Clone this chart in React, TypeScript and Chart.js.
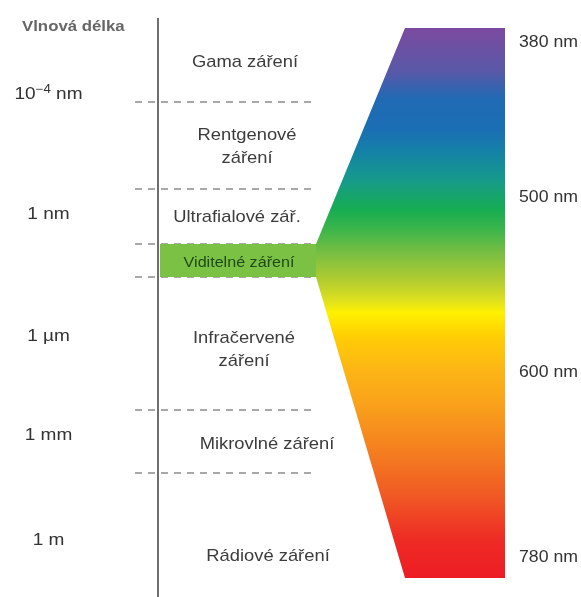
import React, { useEffect, useRef } from "react";
import { Chart, registerables } from "chart.js";

Chart.register(...registerables);

// ---------------- data ----------------
// Schematic wavelength axis (diagram units, short wavelengths at the top)
const axisTitle = "Vlnová délka";
const wavelengthLabels = ["10⁻⁴ nm", "1 nm", "1 µm", "1 mm", "1 m"];
const wavelengthLabelPos = [99, 219, 341, 440, 545];

// boundaries between the radiation regions
const boundaryPos = [102, 189, 244, 277, 410, 473];

const regionNames = [
  "Gama záření",
  "Rentgenové\nzáření",
  "Ultrafialové zář.",
  "Viditelné záření",
  "Infračervené\nzáření",
  "Mikrovlné záření",
  "Rádiové záření",
];
const regionLabelPos = [67, 140, 222, 267, 343, 449, 561];

// visible spectrum detail
const visibleLabels = ["380 nm", "500 nm", "600 nm", "780 nm"];
const visibleLabelPos = [47, 202, 377, 562];
const spectrumTop = 28;
const spectrumBottom = 578;
const spectrumStopPos = [28, 70, 100, 130, 150, 180, 210, 230, 255, 280, 300, 313, 337, 370, 405, 455, 495, 540, 578];
const spectrumStopColors = [
  "#7b4a9f", "#5b58a8", "#1f6ab4", "#1b6fb3", "#1580a8", "#169a8b", "#17ad52", "#3db54a",
  "#7dbf41", "#b1cc31", "#dde01f", "#fff100", "#ffcd05", "#fdb515", "#f9a11b", "#f47b20",
  "#f05a24", "#ee2b25", "#ed1c24",
];

// ---------------- layout (not data) ----------------
const W = 581;
const H = 597;
const AXIS_X = 158;
const AXIS_TOP = 18;
const DASH_START = 135;
const DASH_END = 315;
const BAND_START = 160;
const VERTEX_X = 316;
const SPEC_LEFT_X = 405;
const SPEC_RIGHT_X = 505;
const LEFT_LABEL_CX = 48.5;
const RIGHT_LABEL_X = 519;
const regionLabelX = [245, 247, 237, 239, 244, 267, 268];
const REGION_LINE_H = 22.5;
const FONT = "'Liberation Sans', Arial, sans-serif";

const SUP_MAP: Record<string, string> = {
  "⁻": "−", "⁰": "0", "¹": "1", "²": "2", "³": "3", "⁴": "4",
  "⁵": "5", "⁶": "6", "⁷": "7", "⁸": "8", "⁹": "9",
};

function drawText(
  ctx: CanvasRenderingContext2D,
  text: string,
  x: number,
  baseline: number,
  o: { size: number; color: string; sx: number; align: "left" | "center"; weight?: string }
) {
  const parts = text.split(/([⁻⁰¹²³⁴⁵⁶⁷⁸⁹]+)/).filter((p) => p.length);
  const segs = parts.map((p) => {
    const sup = /^[⁻⁰¹²³⁴⁵⁶⁷⁸⁹]+$/.test(p);
    return { t: sup ? p.split("").map((c) => SUP_MAP[c]).join("") : p, sup };
  });
  const w = o.weight || "normal";
  let total = 0;
  const widths = segs.map((s) => {
    ctx.font = `${w} ${s.sup ? o.size * 0.7 : o.size}px ${FONT}`;
    const m = ctx.measureText(s.t).width;
    total += m;
    return m;
  });
  ctx.save();
  ctx.translate(x, baseline);
  ctx.scale(o.sx, 1);
  ctx.fillStyle = o.color;
  ctx.textBaseline = "alphabetic";
  ctx.textAlign = "left";
  let cx = o.align === "center" ? -total / 2 : 0;
  segs.forEach((s, i) => {
    ctx.font = `${w} ${s.sup ? o.size * 0.7 : o.size}px ${FONT}`;
    ctx.fillText(s.t, cx, s.sup ? -o.size * 0.34 : 0);
    cx += widths[i];
  });
  ctx.restore();
}

const textPlugin = {
  id: "diagramText",
  afterDatasetsDraw(chart: any) {
    const { ctx } = chart;
    const xs = chart.scales.x;
    const ys = chart.scales.y;
    drawText(ctx, axisTitle, xs.getPixelForValue(22), ys.getPixelForValue(30.5), {
      size: 15, color: "#666", sx: 1.12, align: "left", weight: "bold",
    });
    wavelengthLabels.forEach((t, i) => {
      drawText(ctx, t, xs.getPixelForValue(LEFT_LABEL_CX), ys.getPixelForValue(wavelengthLabelPos[i]), {
        size: 17, color: "#333", sx: 1.12, align: "center",
      });
    });
    regionNames.forEach((name, i) => {
      const visible = i === 3;
      name.split("\n").forEach((line, j) => {
        drawText(
          ctx,
          line,
          xs.getPixelForValue(regionLabelX[i]),
          ys.getPixelForValue(regionLabelPos[i] + j * REGION_LINE_H),
          visible
            ? { size: 15.5, color: "#1f4a17", sx: 1.04, align: "center" }
            : { size: 17, color: "#3c3c3c", sx: 1.08, align: "center" }
        );
      });
    });
    visibleLabels.forEach((t, i) => {
      drawText(ctx, t, xs.getPixelForValue(RIGHT_LABEL_X), ys.getPixelForValue(visibleLabelPos[i]), {
        size: 17, color: "#333", sx: 1.04, align: "left",
      });
    });
  },
};

function spectrumGradient(c: any) {
  const chart = c.chart;
  if (!chart.chartArea) return "transparent";
  const ys = chart.scales.y;
  const y0 = ys.getPixelForValue(spectrumTop);
  const y1 = ys.getPixelForValue(spectrumBottom);
  const g = chart.ctx.createLinearGradient(0, y0, 0, y1);
  spectrumStopPos.forEach((p, i) => {
    const off = Math.min(1, Math.max(0, (ys.getPixelForValue(p) - y0) / (y1 - y0)));
    g.addColorStop(off, spectrumStopColors[i]);
  });
  return g;
}

export default function App() {
  const ref = useRef<HTMLCanvasElement | null>(null);

  useEffect(() => {
    if (!ref.current) return;
    const visTop = boundaryPos[2];
    const visBottom = boundaryPos[3];

    const dashed = boundaryPos.map((y) => ({
      data: [{ x: DASH_START, y }, { x: DASH_END, y }],
      borderColor: "#8c8c8c",
      borderWidth: 1.5,
      borderDash: [7, 6],
      fill: false,
      order: 10,
    }));

    const datasets: any[] = [
      {
        // left edge of the visible spectrum, filled to the right edge
        data: [
          { x: SPEC_LEFT_X, y: spectrumTop },
          { x: VERTEX_X, y: visTop },
          { x: VERTEX_X, y: visBottom },
          { x: SPEC_LEFT_X, y: spectrumBottom },
        ],
        indexAxis: "y",
        fill: "+1",
        backgroundColor: spectrumGradient,
        borderWidth: 0,
        borderColor: "transparent",
        order: 8,
      },
      {
        data: [
          { x: SPEC_RIGHT_X, y: spectrumTop },
          { x: SPEC_RIGHT_X, y: spectrumBottom },
        ],
        indexAxis: "y",
        fill: false,
        borderWidth: 0,
        borderColor: "transparent",
        order: 9,
      },
      {
        // visible band top, filled to band bottom
        data: [{ x: BAND_START, y: visTop }, { x: VERTEX_X, y: visTop }],
        fill: "+1",
        backgroundColor: "#7bc143",
        borderWidth: 0,
        borderColor: "transparent",
        order: 5,
      },
      {
        data: [{ x: BAND_START, y: visBottom }, { x: VERTEX_X, y: visBottom }],
        fill: false,
        borderWidth: 0,
        borderColor: "transparent",
        order: 6,
      },
      {
        data: [{ x: AXIS_X, y: AXIS_TOP }, { x: AXIS_X, y: H }],
        indexAxis: "y",
        borderColor: "#6e6e6e",
        borderWidth: 2,
        fill: false,
        order: 1,
      },
      ...dashed,
    ];

    const chart = new Chart(ref.current, {
      type: "line",
      data: { datasets },
      options: {
        animation: false,
        responsive: false,
        events: [],
        layout: { padding: 0 },
        elements: { point: { radius: 0, hoverRadius: 0 }, line: { tension: 0 } },
        plugins: {
          legend: { display: false },
          tooltip: { enabled: false },
          title: { display: false },
        },
        scales: {
          x: { type: "linear", min: 0, max: W, display: false },
          y: { type: "linear", min: 0, max: H, reverse: true, display: false },
        },
      },
      plugins: [textPlugin],
    } as any);

    return () => chart.destroy();
  }, []);

  return (
    <div style={{ position: "fixed", left: 0, top: 0, width: W, height: H, background: "#fff" }}>
      <canvas ref={ref} width={W} height={H} style={{ display: "block", width: W, height: H }} />
    </div>
  );
}
